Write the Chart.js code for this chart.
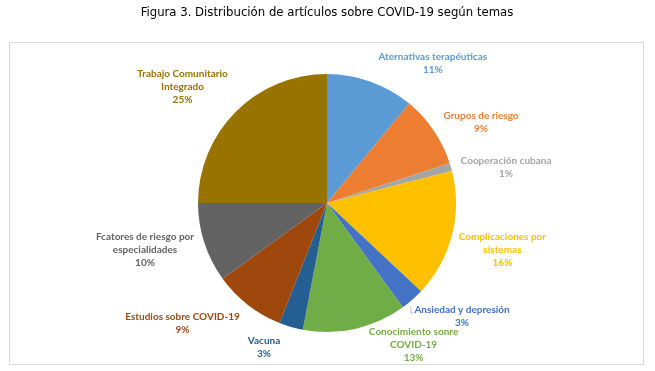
<!DOCTYPE html>
<html>
<head>
<meta charset="utf-8">
<script src="https://cdn.jsdelivr.net/npm/chart.js@4.4.0/dist/chart.umd.min.js"></script>
<style>
  html, body { margin: 0; padding: 0; background: #fff; }
  #wrap { width: 655px; height: 371px; }
</style>
</head>
<body>
<div id="wrap"><canvas id="pie"></canvas></div>
<script>
// Categories (clockwise from the top) and their share of articles
const categories = [
    ['Aternativas terapéuticas'],
    ['Grupos de riesgo'],
    ['Cooperación cubana'],
    ['Complicaciones por', 'sistemas'],
    ['Ansiedad y depresión'],
    ['Conocimiento sonre', 'COVID-19'],
    ['Vacuna'],
    ['Estudios sobre COVID-19'],
    ['Fcatores de riesgo por', 'especialidades'],
    ['Trabajo Comunitario', 'Integrado']
];
const percents = [11, 9, 1, 16, 3, 13, 3, 9, 10, 25];
const sliceColors = ['#5B9BD5', '#ED7D31', '#A5A5A5', '#FFC000', '#4472C4',
                     '#70AD47', '#255E91', '#9E480E', '#636363', '#997300'];

// Where each data label sits, relative to the pie centre, in radius units
const labelSpots = [
    [0.82, -1.085], [1.194, -0.624], [1.388, -0.279], [1.36, 0.364], [1.047, 0.876],
    [0.671, 1.101], [-0.488, 1.116], [-1.12, 0.934], [-1.411, 0.364], [-1.12, -0.899]
];

// Light grey frame round the plot (title stays outside it)
const framePlugin = {
    id: 'frame',
    beforeDraw(chart) {
        const c = chart.ctx;
        c.save();
        c.strokeStyle = '#D9D9D9';
        c.lineWidth = 1;
        c.strokeRect(9.5, 42.5, 634, 322);
        c.restore();
    }
};

// Excel-like outside data labels: name lines + percentage
const pieLabels = {
    id: 'pieLabels',
    afterDatasetsDraw(chart) {
        const c = chart.ctx;
        const arcs = chart.getDatasetMeta(0).data;
        const lineH = 13;
        c.save();
        c.font = 'bold 10px Lato, "Open Sans", sans-serif';
        c.textAlign = 'center';
        c.textBaseline = 'middle';
        arcs.forEach((arc, i) => {
            const p = arc.getProps(['x', 'y', 'outerRadius'], true);
            const lines = categories[i].concat([percents[i] + '%']);
            const cx = p.x + labelSpots[i][0] * p.outerRadius;
            const cy = p.y + labelSpots[i][1] * p.outerRadius;
            const top = cy - (lines.length - 1) * lineH / 2;
            c.fillStyle = sliceColors[i];
            lines.forEach((t, k) => c.fillText(t, cx, top + k * lineH));
            // tiny leader for the label that was pulled away from its slice
            if (i === 4) {
                const w = c.measureText(lines[0]).width;
                const lx = cx - w / 2 - 4;
                c.strokeStyle = '#BFBFBF';
                c.lineWidth = 1;
                c.beginPath();
                c.moveTo(lx + 0.5, top - 3);
                c.lineTo(lx + 0.5, top + 3.5);
                c.lineTo(lx + 3, top + 3.5);
                c.stroke();
            }
        });
        c.restore();
    }
};

new Chart(document.getElementById('pie'), {
    type: 'pie',
    data: {
        labels: categories,
        datasets: [{
            data: percents,
            backgroundColor: sliceColors,
            borderWidth: 0
        }]
    },
    options: {
        responsive: true,
        maintainAspectRatio: false,
        animation: false,
        layout: { padding: { top: 0, bottom: 39, left: 0, right: 1 } },
        plugins: {
            legend: { display: false },
            tooltip: { enabled: false },
            title: {
                display: true,
                text: 'Figura 3. Distribución de artículos sobre COVID-19 según temas',
                color: '#000',
                font: { family: '"DejaVu Sans Condensed", "Liberation Sans Narrow", sans-serif', size: 13, weight: 'normal' },
                padding: { top: 5, bottom: 53.4 }
            }
        }
    },
    plugins: [framePlugin, pieLabels]
});
</script>
</body>
</html>
